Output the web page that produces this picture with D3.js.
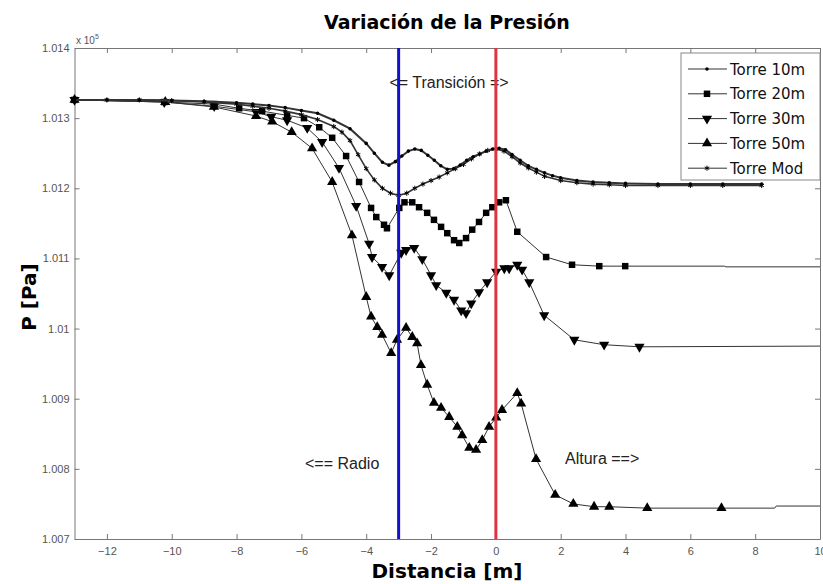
<!DOCTYPE html>
<html>
<head>
<meta charset="utf-8">
<script src="https://cdn.jsdelivr.net/npm/d3@7"></script>
<style>
body { margin: 0; background: #fff; }
</style>
</head>
<body>
<div id="chart"></div>
<script>
const W = 823, H = 584;

const xTicks = [-12, -10, -8, -6, -4, -2, 0, 2, 4, 6, 8, 10];
const yTicks = [1.007, 1.008, 1.009, 1.010, 1.011, 1.012, 1.013, 1.014];
const yTickLabels = ["1.007", "1.008", "1.009", "1.01", "1.011", "1.012", "1.013", "1.014"];
const names = ["Torre 10m", "Torre 20m", "Torre 30m", "Torre 50m", "Torre Mod"];

// values in units of 1e5 Pa, x in metres
const torre10 = [[-13,1.01326],[-12,1.01326],[-11,1.01326],[-10,1.01325],[-9,1.01324],[-8,1.01322],[-7.5,1.0132],
  [-7,1.01318],[-6.5,1.01315],[-6,1.01311],[-5.5,1.01307],[-5,1.01297],[-4.5,1.01285],[-4,1.01264],[-3.75,1.0125],
  [-3.5,1.01237],[-3.3,1.01233],[-3.1,1.01238],[-2.9,1.01246],[-2.7,1.01253],[-2.5,1.01256],[-2.3,1.01254],
  [-2.1,1.01247],[-1.9,1.0124],[-1.7,1.01232],[-1.5,1.01227],[-1.3,1.01228],[-1.1,1.01233],[-0.9,1.0124],
  [-0.7,1.01245],[-0.5,1.01249],[-0.3,1.01253],[-0.1,1.01256],[0.1,1.01257],[0.3,1.01255],[0.5,1.01248],
  [0.75,1.0124],[1,1.01232],[1.25,1.01227],[1.5,1.01222],[1.75,1.01218],[2,1.01215],[2.5,1.01211],[3,1.01209],
  [3.5,1.01208],[4,1.01207],[5,1.01206],[6,1.01206],[7,1.01206],[8.2,1.01206]];

const torre20 = [[-13,1.01326],[-10.23,1.01323],[-8.69,1.0132],[-7.92,1.01314],[-7.21,1.0131],[-6.44,1.01304],
  [-5.92,1.013],[-5.45,1.01287],[-5.05,1.01272],[-4.62,1.01246],[-4.22,1.01209],[-3.85,1.01172],[-3.69,1.01159],
  [-3.45,1.01148],[-3.36,1.01143],[-2.98,1.01172],[-2.82,1.0118],[-2.58,1.0118],[-2.37,1.01173],[-2.12,1.01165],
  [-1.91,1.01155],[-1.69,1.01145],[-1.5,1.01136],[-1.29,1.01126],[-1.13,1.01122],[-0.92,1.01129],[-0.73,1.01141],
  [-0.52,1.01152],[-0.3,1.01165],[-0.11,1.01173],[0.1,1.0118],[0.31,1.01183],[0.66,1.01138],[1.55,1.01102],
  [2.35,1.01091],[3.19,1.01089],[3.99,1.01089]];
const tail20 = [[3.99,1.01089],[7.05,1.01089],[7.1,1.01088],[10,1.01088]];

const torre30 = [[-13,1.01326],[-10.23,1.01323],[-8.69,1.01317],[-7.4,1.01309],[-6.93,1.01302],[-6.44,1.01297],
  [-5.82,1.01286],[-5.36,1.01266],[-4.84,1.01229],[-4.31,1.01175],[-3.91,1.01121],[-3.82,1.01102],[-3.51,1.01088],
  [-3.29,1.01076],[-2.92,1.01108],[-2.77,1.01112],[-2.52,1.01115],[-2.27,1.01099],[-2,1.01076],[-1.84,1.01062],
  [-1.53,1.01051],[-1.29,1.01041],[-1.07,1.01026],[-0.92,1.01022],[-0.76,1.01036],[-0.52,1.01052],[-0.27,1.01066],
  [0.01,1.01081],[0.26,1.01086],[0.41,1.01086],[0.66,1.01091],[0.81,1.01084],[1.03,1.01066],[1.49,1.01019],
  [2.42,1.00984],[3.34,1.00977],[4.43,1.00974]];
const tail30 = [[4.43,1.00974],[10,1.00975]];

const torre50 = [[-13,1.01326],[-10.2,1.01323],[-8.7,1.01316],[-7.4,1.01303],[-6.9,1.01295],[-6.3,1.0128],
  [-5.67,1.01257],[-5.05,1.01209],[-4.44,1.01133],[-4,1.01045],[-3.85,1.01017],[-3.66,1.01002],[-3.51,1.00991],
  [-3.23,1.00965],[-3.05,1.00984],[-2.77,1.01001],[-2.58,1.00988],[-2.43,1.00979],[-2.31,1.00948],[-2.12,1.0092],
  [-1.91,1.00894],[-1.69,1.00887],[-1.44,1.00874],[-1.19,1.0086],[-1.04,1.00848],[-0.82,1.0083],[-0.61,1.00827],
  [-0.42,1.00841],[-0.21,1.0086],[0.01,1.00873],[0.19,1.00884],[0.66,1.00908],[0.78,1.00893],[1.24,1.00814],
  [1.83,1.00763],[2.39,1.0075],[3.03,1.00746],[3.5,1.00746],[4.67,1.00744],[6.96,1.00744]];
const tail50 = [[6.96,1.00744],[8.6,1.00744],[8.65,1.00747],[10,1.00747]];

const torreMod = [[-13,1.01326],[-12,1.01326],[-11,1.01326],[-10,1.01325],[-9,1.01323],[-8,1.0132],[-7.5,1.01317],
  [-7,1.01314],[-6.5,1.0131],[-6,1.01305],[-5.5,1.01298],[-5,1.01288],[-4.75,1.0128],[-4.5,1.01268],[-4.25,1.01248],
  [-4,1.01228],[-3.75,1.01212],[-3.5,1.012],[-3.25,1.01193],[-3,1.0119],[-2.75,1.01193],[-2.5,1.012],[-2.25,1.01206],
  [-2,1.01211],[-1.75,1.01216],[-1.5,1.01222],[-1.25,1.01228],[-1,1.01234],[-0.75,1.01242],[-0.5,1.01249],
  [-0.25,1.01254],[0,1.01256],[0.25,1.01253],[0.5,1.01245],[0.75,1.01236],[1,1.01229],[1.25,1.01223],[1.5,1.01217],
  [2,1.01211],[2.5,1.01208],[3,1.01206],[3.5,1.01205],[4,1.01204],[5,1.01204],[6,1.01204],[7,1.01204],[8.2,1.01204]];

const svg = d3.select("#chart").append("svg")
    .attr("width", W)
    .attr("height", H)
    .style("font-family", "'Liberation Sans', Arial, sans-serif");

const x = d3.scaleLinear().domain([-13, 10]).range([74.5, 820]);
const y = d3.scaleLinear().domain([1.007, 1.014]).range([539, 48]);

const line = d3.line().x(d => x(d[0])).y(d => y(d[1]));

// axes (inward ticks, matlab box)
const axisColor = "#777";
function styleAxis(g) {
    g.select(".domain").attr("stroke", axisColor);
    g.selectAll(".tick line").attr("stroke", axisColor);
    g.selectAll(".tick text").attr("fill", "#555").style("font-size", "11px");
}
svg.append("g").attr("transform", "translate(0,539)")
    .call(d3.axisBottom(x).tickValues(xTicks).tickSize(-5).tickPadding(8).tickSizeOuter(0))
    .call(styleAxis);
svg.append("g").attr("transform", "translate(0,48)")
    .call(d3.axisTop(x).tickValues(xTicks).tickSize(-5).tickFormat("").tickSizeOuter(0))
    .call(styleAxis);
svg.append("g").attr("transform", "translate(74.5,0)")
    .call(d3.axisLeft(y).tickValues(yTicks).tickSize(-5).tickPadding(5).tickSizeOuter(0)
        .tickFormat((d, i) => yTickLabels[i]))
    .call(styleAxis);
svg.append("g").attr("transform", "translate(820,0)")
    .call(d3.axisRight(y).tickValues(yTicks).tickSize(-5).tickFormat("").tickSizeOuter(0))
    .call(styleAxis);

// x 10^5
const ex = svg.append("text").attr("x", 76).attr("y", 44).attr("fill", "#555").style("font-size", "10px");
ex.append("tspan").text("x 10");
ex.append("tspan").attr("dy", -5).style("font-size", "7px").text("5");

// annotations
svg.append("text").attr("x", 449).attr("y", 88).attr("text-anchor", "middle")
    .style("font-size", "16px").attr("fill", "#222").text("<= Transición =>");
svg.append("text").attr("x", 305).attr("y", 469)
    .style("font-size", "16px").attr("fill", "#222").text("<== Radio");
svg.append("text").attr("x", 565).attr("y", 464)
    .style("font-size", "16px").attr("fill", "#222").text("Altura ==>");

// series
const seriesG = svg.append("g");
const lineColor = "#333";
[tail20, tail30, tail50].forEach(t => {
    seriesG.append("path").datum(t).attr("d", line)
        .attr("fill", "none").attr("stroke", lineColor).attr("stroke-width", 1);
});

const series = [
    { data: torre50, sym: d3.symbolTriangle, size: 45, rot: 0, w: 1 },
    { data: torre30, sym: d3.symbolTriangle, size: 45, rot: 180, w: 1 },
    { data: torre20, sym: d3.symbolSquare, size: 42, rot: 0, w: 1 },
    { data: torreMod, sym: d3.symbolAsterisk, size: 18, rot: 0, w: 1.6, stroke: true },
    { data: torre10, sym: d3.symbolCircle, size: 10, rot: 0, w: 2 }
];

series.forEach(s => {
    seriesG.append("path").datum(s.data).attr("d", line)
        .attr("fill", "none").attr("stroke", lineColor).attr("stroke-width", s.w);
    seriesG.selectAll(null).data(s.data).enter().append("path")
        .attr("transform", d => "translate(" + x(d[0]) + "," + y(d[1]) + ") rotate(" + s.rot + ")")
        .attr("d", d3.symbol().type(s.sym).size(s.size))
        .attr("fill", s.stroke ? "none" : "#000")
        .attr("stroke", s.stroke ? "#000" : "none")
        .attr("stroke-width", 1);
});

// transition lines
svg.append("line").attr("x1", x(-3)).attr("x2", x(-3)).attr("y1", y(1.014)).attr("y2", y(1.007))
    .attr("stroke", "#1111cc").attr("stroke-width", 3);
svg.append("line").attr("x1", x(0)).attr("x2", x(0)).attr("y1", y(1.014)).attr("y2", y(1.007))
    .attr("stroke", "#e0323f").attr("stroke-width", 3);

// legend
const leg = svg.append("g").attr("transform", "translate(681,53)");
leg.append("rect").attr("width", 139).attr("height", 127).attr("fill", "#fff").attr("stroke", "#888");
const legSyms = [
    { sym: d3.symbolCircle, size: 10, rot: 0 },
    { sym: d3.symbolSquare, size: 42, rot: 0 },
    { sym: d3.symbolTriangle, size: 45, rot: 180 },
    { sym: d3.symbolTriangle, size: 45, rot: 0 },
    { sym: d3.symbolAsterisk, size: 18, rot: 0, stroke: true }
];
names.forEach((n, i) => {
    const yy = 16 + i * 24.8;
    leg.append("line").attr("x1", 7).attr("x2", 46).attr("y1", yy).attr("y2", yy)
        .attr("stroke", lineColor).attr("stroke-width", 1);
    const s = legSyms[i];
    leg.append("path").attr("transform", "translate(26," + yy + ") rotate(" + s.rot + ")")
        .attr("d", d3.symbol().type(s.sym).size(s.size))
        .attr("fill", s.stroke ? "none" : "#000").attr("stroke", s.stroke ? "#000" : "none");
    leg.append("text").attr("x", 49).attr("y", yy + 5.5)
        .style("font-family", "'DejaVu Sans', sans-serif").style("font-size", "15px")
        .attr("fill", "#111").text(n);
});

// titles
svg.append("text").attr("x", 447).attr("y", 29).attr("text-anchor", "middle")
    .style("font-family", "'DejaVu Sans', sans-serif").style("font-weight", "bold").style("font-size", "19px")
    .text("Variación de la Presión");
svg.append("text").attr("x", 447).attr("y", 578).attr("text-anchor", "middle")
    .style("font-family", "'DejaVu Sans', sans-serif").style("font-weight", "bold").style("font-size", "20px")
    .text("Distancia [m]");
svg.append("text").attr("transform", "translate(36,297) rotate(-90)").attr("text-anchor", "middle")
    .style("font-family", "'DejaVu Sans', sans-serif").style("font-weight", "bold").style("font-size", "20px")
    .text("P [Pa]");
</script>
</body>
</html>
